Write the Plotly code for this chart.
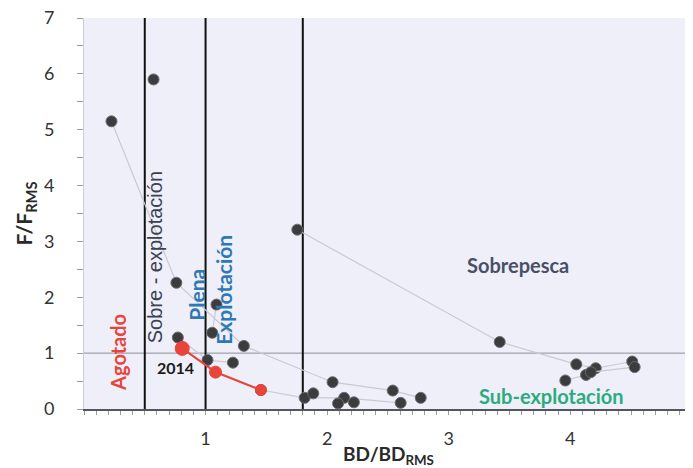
import plotly.graph_objects as go

# ---- data ----
# gray trajectories (BD/BDrms, F/Frms)
trajA_x = [0.226, 0.76, 1.315, 2.045, 2.54, 2.77]
trajA_y = [5.15, 2.26, 1.13, 0.48, 0.33, 0.20]
trajB_x = [1.455, 1.815, 2.14, 2.605]
trajB_y = [0.34, 0.20, 0.20, 0.11]
trajC_x = [1.755, 3.42, 4.05, 4.21, 4.51]
trajC_y = [3.21, 1.20, 0.80, 0.73, 0.85]
trajD_x = [3.96, 4.13, 4.17, 4.53]
trajD_y = [0.51, 0.61, 0.66, 0.75]
trajE_x = [0.772, 1.016, 1.225]
trajE_y = [1.28, 0.877, 0.83]
trajF_x = [1.09, 1.055]
trajF_y = [1.87, 1.365]
single_x = [0.572, 1.886, 2.09, 2.22]
single_y = [5.90, 0.28, 0.10, 0.12]
# highlighted stock (2014 onward)
red_x = [0.808, 1.082, 1.455]
red_y = [1.085, 0.66, 0.34]
red_sizes = [14, 12, 11]

# reference lines
v_lines = [0.5, 1.0, 1.8]
h_line = 1.0

x_ticks = [1, 2, 3, 4, 5]
y_ticks = [0, 1, 2, 3, 4, 5, 6, 7]

GRAY_LINE = "#c9cad2"
PT = "#3c3c3e"
PT_EDGE = "#6b6b70"
RED = "#e8443a"

fig = go.Figure()

for tx, ty in [(trajA_x, trajA_y), (trajB_x, trajB_y), (trajC_x, trajC_y),
               (trajD_x, trajD_y), (trajE_x, trajE_y), (trajF_x, trajF_y)]:
    fig.add_trace(go.Scatter(x=tx, y=ty, mode="lines+markers",
                             line=dict(color=GRAY_LINE, width=1.2),
                             marker=dict(size=11, color=PT, line=dict(color=PT_EDGE, width=1)),
                             showlegend=False, hoverinfo="skip"))

fig.add_trace(go.Scatter(x=single_x, y=single_y, mode="markers",
                         marker=dict(size=11, color=PT, line=dict(color=PT_EDGE, width=1)),
                         showlegend=False))

fig.add_trace(go.Scatter(x=red_x, y=red_y, mode="lines+markers",
                         line=dict(color=RED, width=2.2),
                         marker=dict(size=red_sizes, color=RED, opacity=1,
                                     line=dict(color=RED, width=1)),
                         showlegend=False))

shapes = []
for v in v_lines:
    shapes.append(dict(type="line", xref="x", yref="y", x0=v, x1=v, y0=0, y1=7,
                       line=dict(color="#111111", width=2), layer="below"))
shapes.append(dict(type="line", xref="paper", yref="y", x0=0, x1=1, y0=h_line, y1=h_line,
                   line=dict(color="#8d8e96", width=1), layer="below"))

FONT = "Lato, 'Open Sans', sans-serif"
ARIAL = "'Liberation Sans', Arial, sans-serif"

annotations = [
    dict(x=0.274, y=1.01, text="<b>Agotado</b>", textangle=-90, showarrow=False,
         font=dict(family=FONT, size=20, color=RED)),
    dict(x=0.586, y=2.72, text="Sobre - explotación", textangle=-90, showarrow=False,
         font=dict(family=ARIAL, size=20, color="#3b4150")),
    dict(x=0.919, y=2.04, text="<b>Plena</b>", textangle=-90, showarrow=False,
         font=dict(family=FONT, size=21, color="#2e79b3")),
    dict(x=1.141, y=2.13, text="<b>Explotación</b>", textangle=-90, showarrow=False,
         font=dict(family=FONT, size=21, color="#2e79b3")),
    dict(x=3.57, y=2.58, text="<b>Sobrepesca</b>", showarrow=False,
         font=dict(family=FONT, size=20, color="#4a4f68")),
    dict(x=3.85, y=0.23, text="<b>Sub-explotación</b>", showarrow=False,
         font=dict(family=FONT, size=20, color="#2bab7e")),
    dict(x=0.752, y=0.75, text="<b>2014</b>", showarrow=False,
         font=dict(family=FONT, size=16, color="#1a1a1a")),
    dict(xref="paper", yref="paper", x=-0.097, y=0.5, xanchor="center", yanchor="middle",
         text="<b>F/F<sub>RMS</sub></b>",
         textangle=-90, showarrow=False, font=dict(family=FONT, size=21, color="#2a2a2a")),
    dict(xref="paper", yref="paper", x=0.5, y=-0.117, xanchor="center", yanchor="middle",
         text="<b>BD/BD<sub>RMS</sub></b>", showarrow=False,
         font=dict(family=FONT, size=19, color="#2a2a2a")),
]

# the page body has an 8px margin, so the figure is sized/offset accordingly
fig.update_layout(
    width=685, height=460,
    margin=dict(l=76, r=0, t=10, b=59, autoexpand=False),
    paper_bgcolor="white",
    plot_bgcolor="#eeeff8",
    shapes=shapes,
    annotations=annotations,
    font=dict(family=FONT, size=18, color="#333333"),
    xaxis=dict(range=[0, 5.01], tickvals=x_ticks, ticktext=[str(t) for t in x_ticks],
               automargin=False, ticklabeloverflow="allow",
               showgrid=False, zeroline=False, showline=True, linecolor="#55565c", linewidth=1.5,
               ticks="outside", ticklen=4, tickcolor="#9a9aa0",
               minor=dict(dtick=0.1, ticks="outside", ticklen=4, tickcolor="#9a9aa0"),
               ticklabelstandoff=9, tickfont=dict(size=18, color="#333333")),
    yaxis=dict(range=[0, 7], tickvals=y_ticks, ticktext=[str(t) for t in y_ticks],
               automargin=False, ticklabeloverflow="allow",
               showgrid=False, zeroline=False, showline=True, linecolor="#c9cbe0", linewidth=1,
               ticks="outside", ticklen=6, tickcolor="#9a9aa0",
               minor=dict(dtick=0.5, ticks="outside", ticklen=6, tickcolor="#9a9aa0"),
               ticklabelstandoff=19, tickfont=dict(size=18, color="#333333")),
)

fig.write_html("out.html")
